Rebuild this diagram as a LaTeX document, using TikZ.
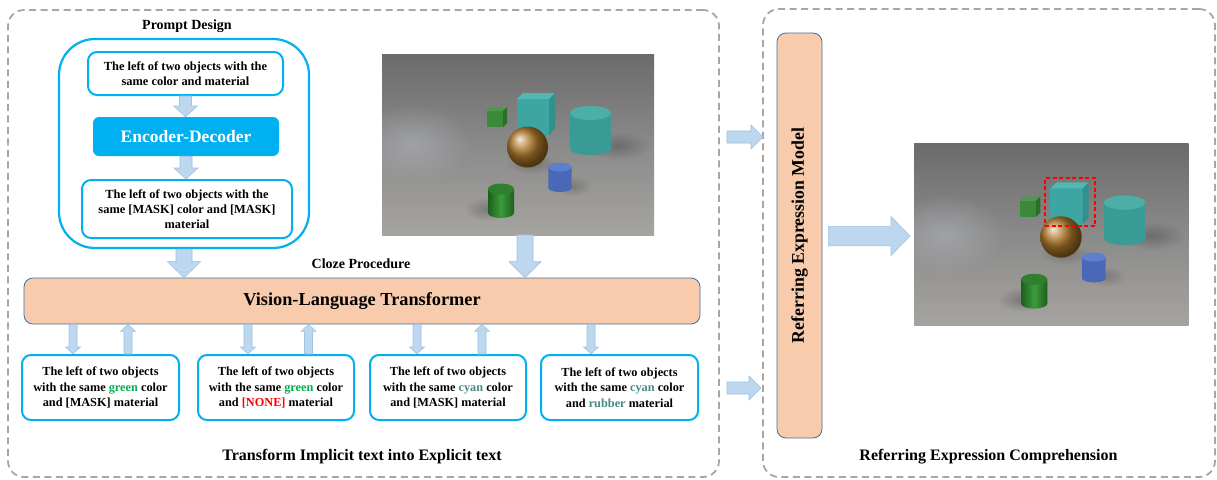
\documentclass[tikz,border=0pt]{standalone}
\usepackage{fontspec}
\setmainfont{Liberation Serif}
\usetikzlibrary{calc,fadings}
\definecolor{arrfill}{HTML}{BDD7EE}
\definecolor{arrline}{HTML}{9DC3E6}
\definecolor{peach}{HTML}{F8CBAD}
\definecolor{peachline}{HTML}{41719C}
\definecolor{cblue}{HTML}{00B0F0}
\definecolor{dashgray}{HTML}{A6A6A6}
\definecolor{tgreen}{HTML}{00B050}
\definecolor{tteal}{HTML}{468A8A}
\definecolor{tred}{HTML}{FF0000}
\definecolor{bgtop}{HTML}{6B6B6B}
\definecolor{bgmid}{HTML}{8A8A8A}
\definecolor{bgbot}{HTML}{A6A49F}
\definecolor{bgspot}{HTML}{B3B6BD}
\definecolor{gcfront}{HTML}{3A8A3A}
\definecolor{gctop}{HTML}{4A9A4A}
\definecolor{gcside}{HTML}{2A6E2A}
\definecolor{ccfront}{HTML}{3EA6A2}
\definecolor{cctop}{HTML}{52B8B3}
\definecolor{ccside}{HTML}{33918D}
\definecolor{cylbody}{HTML}{3A9A95}
\definecolor{cyltop}{HTML}{4DAEA8}
\definecolor{bluebody}{HTML}{4A68B8}
\definecolor{bluetop}{HTML}{5D7FD0}
\definecolor{gcylA}{HTML}{1E5E1E}
\definecolor{gcylB}{HTML}{3C9C3C}
\definecolor{gcyltop}{HTML}{2F7F2F}
\definecolor{bronze}{HTML}{B07A2A}
\tikzfading[name=softspot, inner color=transparent!0, outer color=transparent!100]
\tikzset{
 panel/.style={draw=dashgray, line width=1.8pt, dash pattern=on 7pt off 4.5pt, rounded corners=16pt, inner sep=0pt, outer sep=0pt},
 tbox/.style={draw=cblue, line width=2pt, rounded corners=9pt, fill=white, align=center, inner sep=0pt, font=\bfseries\fontsize{12.4}{14.8}\selectfont},
 encbox/.style={fill=cblue, rounded corners=6pt, text=white, inner sep=0pt, minimum width=186pt, minimum height=39pt, font=\bfseries\fontsize{17.5}{20}\selectfont},
 peachbox/.style={fill=peach, draw=peachline, line width=0.8pt, rounded corners=9pt, inner sep=0pt},
 ttl/.style={font=\bfseries\fontsize{#1}{#1}\selectfont, inner sep=0pt},
 imgframe/.style={inner sep=0pt, outer sep=0pt},
 target/.style={draw=red, line width=1.5pt, dash pattern=on 4pt off 2.5pt, inner sep=0pt},
 fat/.style n args={3}{fill=arrfill, draw=arrline, line width=0.6pt, line join=miter,
   to path={
     ($(\tikztostart)!#1!90:(\tikztotarget)$) --
     ($(\tikztotarget)!#3!(\tikztostart)!#1!90:(\tikztotarget)$) --
     ($(\tikztotarget)!#3!(\tikztostart)!#2!90:(\tikztotarget)$) --
     (\tikztotarget) --
     ($(\tikztotarget)!#3!(\tikztostart)!#2!-90:(\tikztotarget)$) --
     ($(\tikztotarget)!#3!(\tikztostart)!#1!-90:(\tikztotarget)$) --
     ($(\tikztostart)!#1!-90:(\tikztotarget)$) -- cycle}},
}
\newcommand\clevrscene{%
 \begin{scope}
 \clip (0,0) rectangle (272,181);
 \shade[top color=bgtop, bottom color=bgbot, middle color=bgmid] (0,0) rectangle (272,181);
 \fill[bgspot, opacity=.55, path fading=softspot] (30,90) ellipse [x radius=60pt, y radius=40pt];
 \fill[black, opacity=.22, path fading=softspot] (236,92) ellipse [x radius=32pt, y radius=14pt];
 \fill[black, opacity=.22, path fading=softspot] (105,155) ellipse [x radius=22pt, y radius=12pt];
 \fill[black, opacity=.18, path fading=softspot] (190,132) ellipse [x radius=20pt, y radius=10pt];
 \fill[black, opacity=.18, path fading=softspot] (150,110) ellipse [x radius=26pt, y radius=10pt];
 \fill[gcfront] (105,57) rectangle (121,73);
 \fill[gctop] (105,57) -- (109,53) -- (125,53) -- (121,57) -- cycle;
 \fill[gcside] (121,57) -- (125,53) -- (125,69) -- (121,73) -- cycle;
 \fill[ccfront] (135,45) rectangle (167,81);
 \fill[cctop] (135,45) -- (141,39) -- (173,39) -- (167,45) -- cycle;
 \fill[ccside] (167,45) -- (173,39) -- (173,74) -- (167,81) -- cycle;
 \fill[cylbody] (188,59) -- (188,95) arc[start angle=180, end angle=360, x radius=20.5pt, y radius=6pt] -- (229,59) -- cycle;
 \fill[cyltop] (208.5,59) ellipse [x radius=20.5pt, y radius=7pt];
 \shade[ball color=bronze] (145.5,93) circle [radius=20.5pt];
 \fill[bluebody] (166.3,113) -- (166.3,134) arc[start angle=180, end angle=360, x radius=11.7pt, y radius=4pt] -- (189.7,113) -- cycle;
 \fill[bluetop] (178,113) ellipse [x radius=11.7pt, y radius=4.5pt];
 \shade[left color=gcylA, right color=gcylA, middle color=gcylB] (106,135) -- (106,159) arc[start angle=180, end angle=360, x radius=13pt, y radius=5pt] -- (132,135) -- cycle;
 \fill[gcyltop] (119,135) ellipse [x radius=13pt, y radius=5.5pt];
 \end{scope}
}
\begin{document}
\begin{tikzpicture}[x=1pt,y=-1pt]
\useasboundingbox (0,0) rectangle (1217,479);
\fill[white] (0,0) rectangle (1217,479);
% panels
\node[panel, minimum width=711pt, minimum height=467pt] (lp) at (363.5,243.5) {};
\node[panel, minimum width=452pt, minimum height=468pt] (rp) at (989,243) {};
% prompt design
\node[ttl=14] (pdlab) at (187,26) {Prompt Design};
\node[draw=cblue, line width=2.2pt, rounded corners=36pt, minimum width=250pt, minimum height=209pt, inner sep=0pt] (pbox) at (184,143.5) {};
\node[tbox, minimum width=195pt, minimum height=43pt] (b1) at (185.5,73.5) {The left of two objects with the\\same color and material};
\node[encbox] (enc) at (186,136.5) {Encoder-Decoder};
\node[tbox, minimum width=210pt, minimum height=58pt] (b3) at (187,209) {The left of two objects with the\\same [MASK] color and [MASK]\\material};
\draw[fat={6pt}{12pt}{11pt}] (b1.south) to (b1.south |- enc.north);
\draw[fat={6pt}{12pt}{11pt}] (enc.south) to (enc.south |- b3.north);
% image 1
\begin{scope}[shift={(382,54)}]
\clevrscene
\end{scope}
\node[imgframe, minimum width=272pt, minimum height=181pt] (img1) at (518,144.5) {};
% cloze + VLT
\node[ttl=14] (cloze) at (361,264) {Cloze Procedure};
\node[peachbox, minimum width=676pt, minimum height=46pt, font=\bfseries\fontsize{18.3}{22}\selectfont] (vlt) at (362,301) {Vision-Language Transformer};
\draw[fat={8pt}{16.5pt}{16pt}] (pbox.south) to (pbox.south |- vlt.north);
\draw[fat={8pt}{16pt}{16pt}] ([xshift=7pt]img1.south) to ([xshift=7pt]img1.south |- vlt.north);
% bottom boxes
\node[tbox, minimum width=157pt, minimum height=65pt, font=\bfseries\fontsize{12.3}{15.5}\selectfont] (ta) at (100.5,387.5) {The left of two objects\\with the same \textcolor{tgreen}{green} color\\and [MASK] material};
\node[tbox, minimum width=156pt, minimum height=65pt, font=\bfseries\fontsize{12.3}{15.5}\selectfont] (tb) at (276,387.5) {The left of two objects\\with the same \textcolor{tgreen}{green} color\\and \textcolor{tred}{[NONE]} material};
\node[tbox, minimum width=156pt, minimum height=65pt, font=\bfseries\fontsize{12.3}{15.5}\selectfont] (tc) at (448,387.5) {The left of two objects\\with the same \textcolor{tteal}{cyan} color\\and [MASK] material};
\node[tbox, minimum width=157pt, minimum height=65pt, font=\bfseries\fontsize{12.3}{15.5}\selectfont] (td) at (619.5,387.5) {The left of two objects\\with the same \textcolor{tteal}{cyan} color\\and \textcolor{tteal}{rubber} material};
\draw[fat={4pt}{7.5pt}{7pt}] ([xshift=-27.5pt]ta.north |- vlt.south) to ([xshift=-27.5pt]ta.north);
\draw[fat={4pt}{7.5pt}{7pt}] ([xshift=27.5pt]ta.north) to ([xshift=27.5pt]ta.north |- vlt.south);
\draw[fat={4pt}{7.5pt}{7pt}] ([xshift=-28pt]tb.north |- vlt.south) to ([xshift=-28pt]tb.north);
\draw[fat={4pt}{7.5pt}{7pt}] ([xshift=32.5pt]tb.north) to ([xshift=32.5pt]tb.north |- vlt.south);
\draw[fat={4pt}{7.5pt}{7pt}] ([xshift=-31pt]tc.north |- vlt.south) to ([xshift=-31pt]tc.north);
\draw[fat={4pt}{7.5pt}{7pt}] ([xshift=34pt]tc.north) to ([xshift=34pt]tc.north |- vlt.south);
\draw[fat={4pt}{7.5pt}{7pt}] ([xshift=-28.5pt]td.north |- vlt.south) to ([xshift=-28.5pt]td.north);
\node[ttl=16] (tlab) at (362,457) {Transform Implicit text into Explicit text};
% right panel
\node[peachbox, minimum width=45pt, minimum height=405pt] (refm) at (799.5,235.5) {};
\node[ttl=17.8, rotate=90] (refmlab) at (refm.center) {Referring Expression Model};
\coordinate (in1) at (727,137);
\coordinate (in2) at (727,388);
\draw[fat={6pt}{12pt}{12pt}] (in1) to (rp.west |- in1);
\draw[fat={6pt}{12pt}{12pt}] (in2) to ([xshift=-2pt]rp.west |- in2);
\begin{scope}[shift={(914,143)}, scale=1.01]
\clevrscene
\end{scope}
\node[imgframe, minimum width=275pt, minimum height=183pt] (img2) at (1051.5,234.5) {};
\node[target, minimum width=50pt, minimum height=48pt] (tgt) at (1070,202) {};
\draw[fat={9.7pt}{19.5pt}{19pt}] ([xshift=6pt]refm.east |- 0,236) to ([xshift=-4pt]img2.west |- 0,236);
\node[ttl=16] (rlab) at (988.5,457) {Referring Expression Comprehension};
\end{tikzpicture}
\end{document}
